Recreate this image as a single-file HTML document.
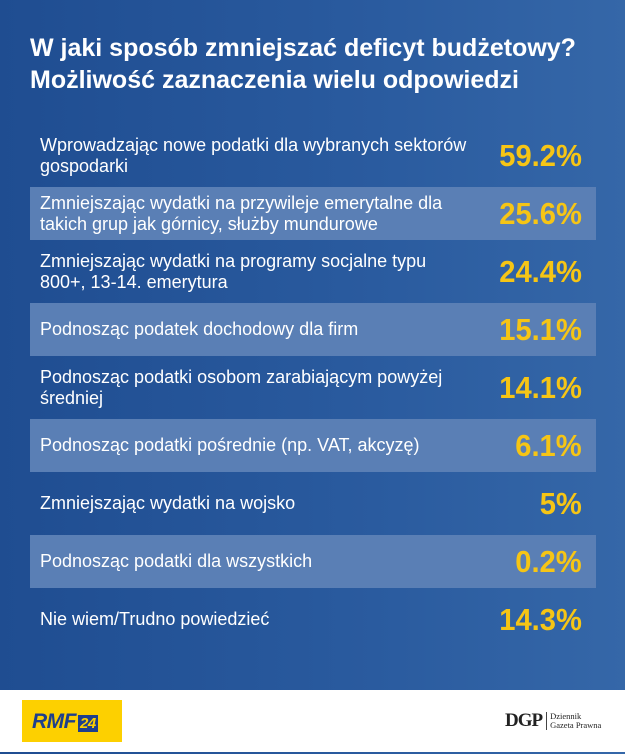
<!DOCTYPE html>
<html><head><meta charset="utf-8"><style>
body{margin:0;width:625px;height:754px;overflow:hidden;font-family:"Liberation Sans",Arial,sans-serif;}
#bg{position:absolute;left:0;top:0;width:625px;height:754px;background:linear-gradient(90deg,#1f4d91 0%,#2a5b9f 60%,#3567a8 100%);}
#title{position:absolute;left:30px;top:32px;color:#fff;font-weight:bold;font-size:25px;line-height:32px;white-space:nowrap;}
.row{position:absolute;left:30px;width:566px;height:53px;}
.row.hl{background:#5a7fb5;}
.lbl{position:absolute;left:10px;top:0;height:53px;width:520px;display:flex;align-items:center;color:#fff;font-size:18px;line-height:21px;white-space:pre-line;}
.val{position:absolute;right:14px;top:-1px;height:53px;line-height:55px;color:#f6c515;font-weight:bold;font-size:31px;transform:scaleX(0.94);transform-origin:right center;}
#footer{position:absolute;left:0;top:690px;width:625px;height:62px;background:#fff;}
#rmf{position:absolute;left:22px;top:10px;width:100px;height:42px;background:#fdd000;}
#rmf span{position:absolute;left:10px;top:10px;font-weight:bold;font-style:italic;font-size:21px;color:#1e3f8c;letter-spacing:-0.5px;}
#rmf b{display:inline-block;background:#1e3f8c;color:#fdd000;font-size:15px;padding:0 2px;margin-left:2px;}
#dgp{position:absolute;left:505px;top:20px;font-family:"Liberation Serif",serif;color:#222;}
</style></head><body>
<div id="bg"></div>
<div id="title">W jaki sposób zmniejszać deficyt budżetowy?<br>Możliwość zaznaczenia wielu odpowiedzi</div>
<div id="rows"></div>
<div id="footer">
 <div id="rmf"><span>RMF<b>24</b></span></div>
 <div id="dgp"><span style="font-size:19px;font-weight:bold;letter-spacing:-1px;vertical-align:middle">DGP</span><span style="display:inline-block;border-left:1px solid #444;margin-left:4px;padding-left:3px;font-size:8.5px;line-height:9px;vertical-align:middle">Dziennik<br>Gazeta Prawna</span></div>
</div>
<script>
const categories=["Wprowadzając nowe podatki dla wybranych sektorów\ngospodarki","Zmniejszając wydatki na przywileje emerytalne dla\ntakich grup jak górnicy, służby mundurowe","Zmniejszając wydatki na programy socjalne typu\n800+, 13-14. emerytura","Podnosząc podatek dochodowy dla firm","Podnosząc podatki osobom zarabiającym powyżej\nśredniej","Podnosząc podatki pośrednie (np. VAT, akcyzę)","Zmniejszając wydatki na wojsko","Podnosząc podatki dla wszystkich","Nie wiem/Trudno powiedzieć"];
const values=[59.2,25.6,24.4,15.1,14.1,6.1,5,0.2,14.3];
const valueLabels=["59.2%","25.6%","24.4%","15.1%","14.1%","6.1%","5%","0.2%","14.3%"];
const wrap=document.getElementById('rows');
function rowY(i){return 129+i*58;}
categories.forEach((c,i)=>{
  const r=document.createElement('div');
  r.className='row'+(i%2===1?' hl':'');
  r.style.top=rowY(i)+'px';
  
  
  const l=document.createElement('div');l.className='lbl';l.textContent=c;
  
  
  const v=document.createElement('div');v.className='val';
  v.textContent=valueLabels[i]||(values[i]+'%');
  
  
  r.appendChild(l);r.appendChild(v);wrap.appendChild(r);
});
</script>
</body></html>
